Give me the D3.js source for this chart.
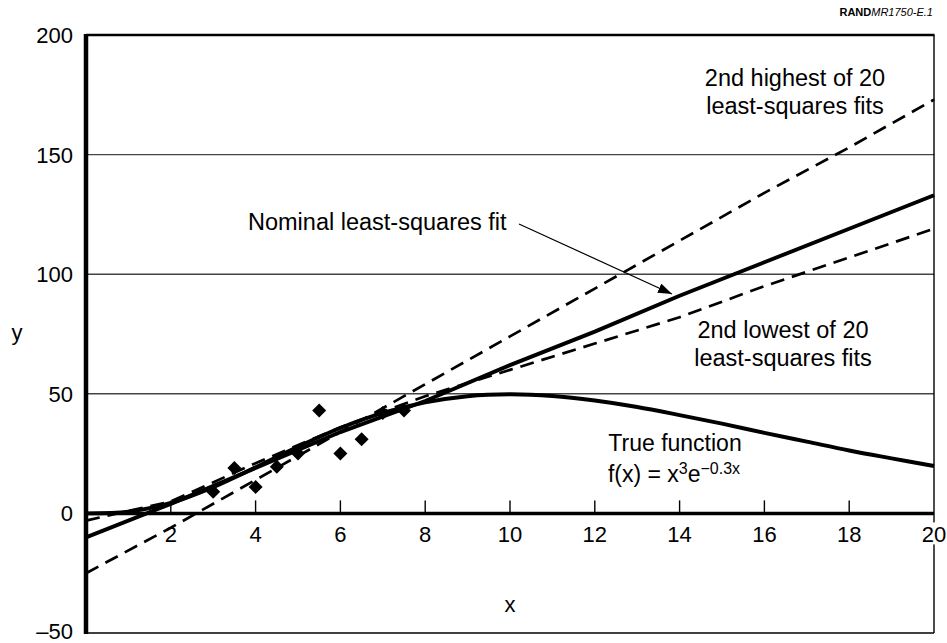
<!DOCTYPE html>
<html>
<head>
<meta charset="utf-8">
<script src="https://cdn.jsdelivr.net/npm/d3@7"></script>
<style>
  body { margin: 0; background: #fff; }
  text { font-family: "Liberation Sans", Arial, Helvetica, sans-serif; fill: #000; }
</style>
</head>
<body>
<div id="chart"></div>
<script>
// values
const fitX = [0, 2, 4, 6, 8, 10, 12, 14, 16, 18, 20]
const nominalFit = [-10, 4, 19, 34, 47, 62, 76, 91, 105, 119, 133]
const highFit = [-25, -6, 14, 34, 54, 74, 94, 114, 134, 153, 173]
const lowFit = [-3, 5, 21, 36, 49, 60, 71, 82, 95, 107, 119]

const trueX = [0, 1, 2, 3, 4, 5, 6, 7, 8, 9, 10, 11, 12, 13, 14, 15, 16, 17, 18, 19, 20]
const trueY = [0, 0.7, 4.4, 11, 19.3, 27.9, 35.7, 42, 46.4, 49, 49.8, 49.1, 47.2, 44.5, 41.1, 37.5, 33.7, 30, 26.3, 23, 19.8]

const obsX = [3, 3.5, 4, 4.5, 5, 5.5, 6, 6.5, 7, 7.5]
const obsY = [9, 19, 11, 19.5, 25, 43, 25, 31, 42, 43]

const xTicks = [2, 4, 6, 8, 10, 12, 14, 16, 18, 20]
const yTicks = [-50, 0, 50, 100, 150, 200]

let width = 947, height = 643
let svg = d3.select("#chart").append("svg")
    .attr("width", width)
    .attr("height", height)

let x = d3.scaleLinear().domain([0, 20]).range([86, 934])
let y = d3.scaleLinear().domain([-50, 200]).range([633, 35])

// gridlines
svg.selectAll(".grid")
    .data([50, 100, 150])
    .enter()
    .append("line")
    .attr("class", "grid")
    .attr("x1", x(0)).attr("x2", x(20))
    .attr("y1", d => y(d)).attr("y2", d => y(d))
    .attr("stroke", "#444")
    .attr("stroke-width", 1.4)

// frame: top, right, bottom
svg.append("line").attr("x1", x(0)).attr("x2", x(20) + 0.5).attr("y1", y(200)).attr("y2", y(200))
    .attr("stroke", "#000").attr("stroke-width", 2.4)
svg.append("line").attr("x1", x(20)).attr("x2", x(20)).attr("y1", y(200)).attr("y2", y(-50))
    .attr("stroke", "#000").attr("stroke-width", 1.4)
svg.append("line").attr("x1", x(0)).attr("x2", x(20)).attr("y1", y(-50)).attr("y2", y(-50))
    .attr("stroke", "#000").attr("stroke-width", 1.4)

// zero line with ticks pointing up
svg.append("line").attr("x1", x(0)).attr("x2", x(20)).attr("y1", y(0)).attr("y2", y(0))
    .attr("stroke", "#000").attr("stroke-width", 3.5)
svg.selectAll(".xtick")
    .data(xTicks.filter(d => d < 20))
    .enter()
    .append("line")
    .attr("class", "xtick")
    .attr("x1", d => x(d)).attr("x2", d => x(d))
    .attr("y1", y(0)).attr("y2", y(0) - 13)
    .attr("stroke", "#000")
    .attr("stroke-width", 1.4)

// lines
let line = d3.line()
    .x(d => x(d[0]))
    .y(d => y(d[1]))

let series = [
    { vals: highFit, dash: "14,8", w: 2.7 },
    { vals: lowFit, dash: "14,8", w: 2.7 },
    { vals: nominalFit, dash: null, w: 3.9 }
]
series.forEach(s => {
    svg.append("path")
        .datum(fitX.map((d, i) => [d, s.vals[i]]))
        .attr("d", line)
        .attr("fill", "none")
        .attr("stroke", "#000")
        .attr("stroke-width", s.w)
        .attr("stroke-dasharray", s.dash)
})

svg.append("path")
    .datum(trueX.map((d, i) => [d, trueY[i]]))
    .attr("d", line.curve(d3.curveCatmullRom))
    .attr("fill", "none")
    .attr("stroke", "#000")
    .attr("stroke-width", 3.9)

// observations (diamonds)
svg.selectAll(".obs")
    .data(obsX.map((d, i) => [d, obsY[i]]))
    .enter()
    .append("path")
    .attr("class", "obs")
    .attr("d", d3.symbol().type(d3.symbolDiamond2).size(125))
    .attr("transform", d => "translate(" + x(d[0]) + "," + y(d[1]) + ")")
    .attr("fill", "#000")

// left axis (thick)
svg.append("line").attr("x1", x(0)).attr("x2", x(0)).attr("y1", y(200) - 1).attr("y2", y(-50) + 1)
    .attr("stroke", "#000").attr("stroke-width", 4.5)

// y tick labels
svg.selectAll(".ylab")
    .data(yTicks)
    .enter()
    .append("text")
    .attr("class", "ylab")
    .attr("x", 73)
    .attr("y", d => d < 0 ? y(d) - 2 : y(d))
    .attr("dy", "0.36em")
    .attr("text-anchor", "end")
    .style("font-size", "22px")
    .text(d => d < 0 ? "\u2013" + Math.abs(d) : d)

// x tick labels (below zero line)
svg.selectAll(".xbg")
    .data(xTicks.filter(d => d == 20))
    .enter()
    .append("rect")
    .attr("x", d => x(d) - 13).attr("y", y(0) + 9)
    .attr("width", 26).attr("height", 22)
    .attr("fill", "#fff")
svg.selectAll(".xlab")
    .data(xTicks)
    .enter()
    .append("text")
    .attr("class", "xlab")
    .attr("x", d => x(d))
    .attr("y", y(0) + 29)
    .attr("text-anchor", "middle")
    .style("font-size", "22px")
    .text(d => d)

// axis titles
svg.append("text").attr("x", 17).attr("y", 340).attr("text-anchor", "middle")
    .style("font-size", "22px").text("y")
svg.append("text").attr("x", x(10)).attr("y", 612).attr("text-anchor", "middle")
    .style("font-size", "22px").text("x")

// annotations
function block(cx, y0, lines, size) {
    lines.forEach((t, i) => {
        svg.append("text")
            .attr("x", cx).attr("y", y0 + i * 28)
            .attr("text-anchor", "middle")
            .style("font-size", size + "px")
            .text(t)
    })
}
block(795, 86, ["2nd highest of 20", "least-squares fits"], 23.5)
block(783, 338, ["2nd lowest of 20", "least-squares fits"], 23.5)
block(675, 451, ["True function"], 23)

let f = svg.append("text")
    .attr("x", 674).attr("y", 482)
    .attr("text-anchor", "middle")
    .style("font-size", "23px")
f.append("tspan").text("f(x) = x")
f.append("tspan").attr("dy", -8).style("font-size", "16px").text("3")
f.append("tspan").attr("dy", 8).text("e")
f.append("tspan").attr("dy", -8).style("font-size", "16px").text("\u22120.3x")

svg.append("text").attr("x", 248).attr("y", 230)
    .style("font-size", "23.5px")
    .text("Nominal least-squares fit")

// arrow to nominal fit
svg.append("defs").append("marker")
    .attr("id", "arrow")
    .attr("viewBox", "0 0 14 10")
    .attr("refX", 14).attr("refY", 5)
    .attr("markerWidth", 14).attr("markerHeight", 10)
    .attr("markerUnits", "userSpaceOnUse")
    .attr("orient", "auto")
    .append("path")
    .attr("d", "M0,0 L14,5 L0,10 Z")
    .attr("fill", "#000")
svg.append("line")
    .attr("x1", 519).attr("y1", 224)
    .attr("x2", 672).attr("y2", 294)
    .attr("stroke", "#000")
    .attr("stroke-width", 1.2)
    .attr("marker-end", "url(#arrow)")

// source tag
let tag = svg.append("text")
    .attr("x", 933).attr("y", 16)
    .attr("text-anchor", "end")
    .style("font-size", "11px")
tag.append("tspan").style("font-weight", "bold").text("RAND")
tag.append("tspan").style("font-style", "italic").text("MR1750-E.1")
</script>
</body>
</html>
